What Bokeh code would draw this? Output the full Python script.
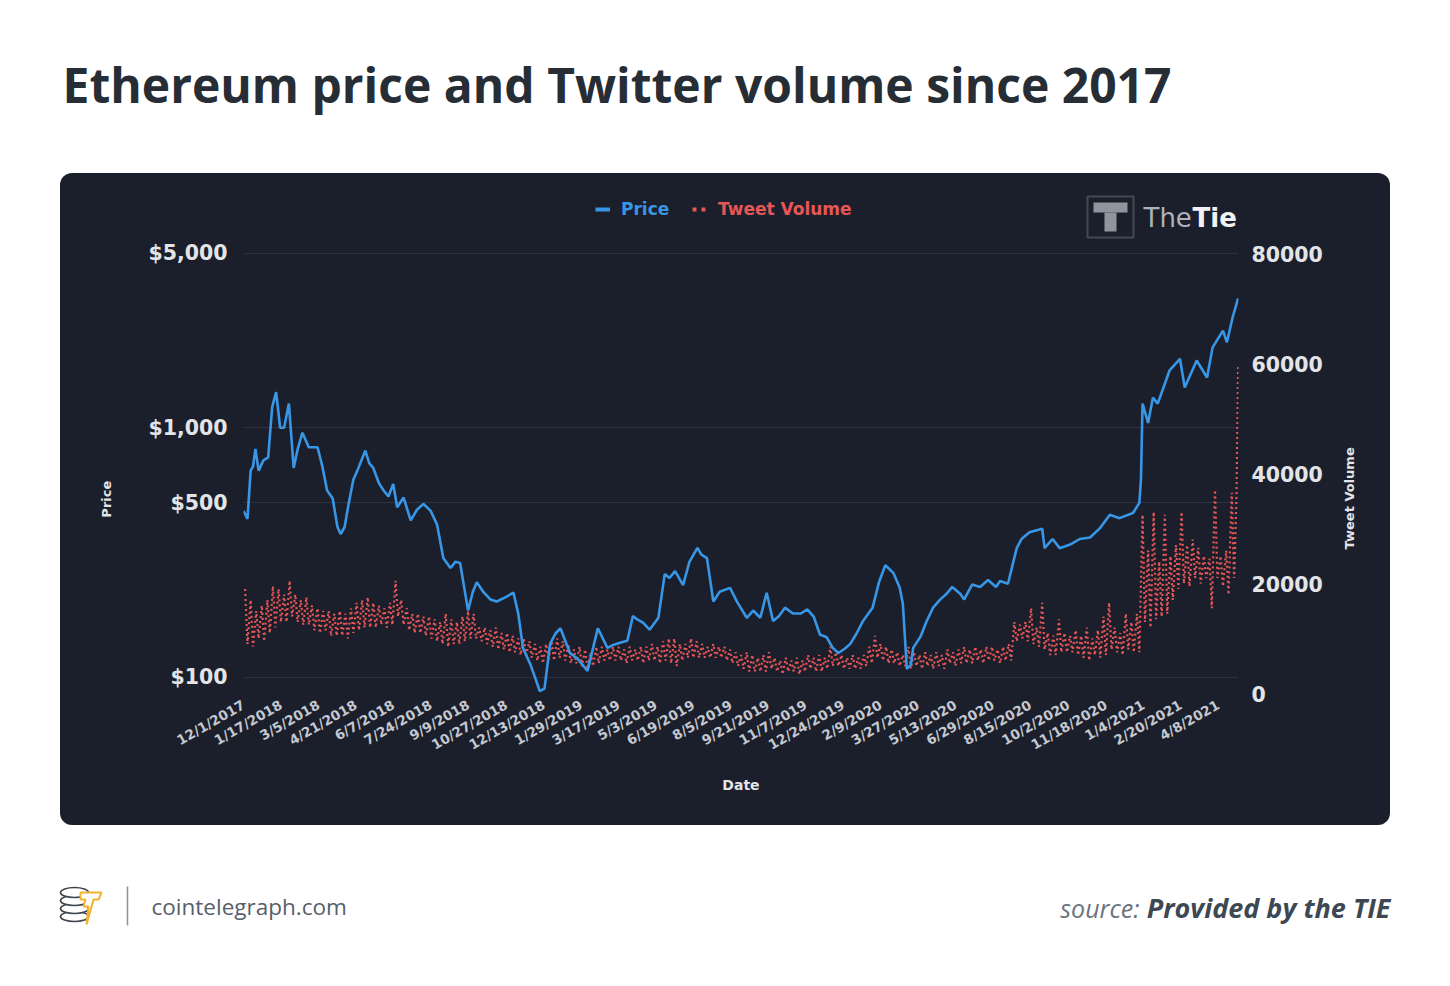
import numpy as np
import pandas as pd
from bokeh.plotting import figure
from bokeh.models import (Range1d, LinearAxis, LinearScale, FixedTicker, NumeralTickFormatter,
                          CustomJSTickFormatter, Label, BoxAnnotation, Legend, LegendItem)
from bokeh.core.properties import value
from bokeh.embed import file_html
from bokeh.resources import INLINE

# ---------------- data ----------------
TITLE = "Ethereum price and Twitter volume since 2017"
SITE = "cointelegraph.com"
SOURCE_LABEL = "source:"
SOURCE_TEXT = "Provided by the TIE"
START = "2017-12-01"

x_tick_labels = ["12/1/2017", "1/17/2018", "3/5/2018", "4/21/2018", "6/7/2018", "7/24/2018",
                 "9/9/2018", "10/27/2018", "12/13/2018", "1/29/2019", "3/17/2019", "5/3/2019",
                 "6/19/2019", "8/5/2019", "9/21/2019", "11/7/2019", "12/24/2019", "2/9/2020",
                 "3/27/2020", "5/13/2020", "6/29/2020", "8/15/2020", "10/2/2020", "11/18/2020",
                 "1/4/2021", "2/20/2021", "4/8/2021"]
price_ticks = [100, 500, 1000, 5000]
tweet_ticks = [0, 20000, 40000, 60000, 80000]

# ETH price (USD), days since 12/1/2017
price_day = [0, 5, 9, 12, 15, 19, 25, 31, 36, 41, 46, 51, 57, 63, 68, 74, 82, 93, 99, 105,
             112, 118, 122, 127, 132, 138, 143, 153, 158, 163, 170, 176, 182, 188, 193, 201,
             210, 218, 226, 235, 243, 251, 260, 266, 272, 282, 288, 293, 301, 310, 318, 330,
             339, 345, 351, 360, 366, 372, 378, 385, 392, 398, 410, 420, 432, 445, 457, 465,
             475, 482, 489, 495, 502, 510, 521, 529, 535, 542, 552, 560, 570, 575, 582, 590,
             598, 611, 620, 632, 640, 649, 657, 665, 672, 680, 690, 700, 708, 716, 724, 732,
             740, 747, 755, 762, 770, 778, 790, 798, 806, 816, 824, 828, 833, 838, 841, 850,
             858, 866, 875, 883, 890, 900, 905, 915, 925, 935, 945, 950, 960, 971, 977, 987,
             1003, 1006, 1016, 1025, 1038, 1050, 1063, 1075, 1088, 1100, 1117, 1125, 1127,
             1129, 1136, 1142, 1148, 1154, 1163, 1176, 1182, 1197, 1210, 1217, 1230, 1235,
             1242, 1249]
price_usd = [464, 431, 673, 700, 823, 673, 740, 760, 1210, 1390, 1000, 1000, 1250, 690, 820,
             955, 835, 835, 700, 560, 520, 400, 375, 400, 495, 620, 673, 810, 720, 690, 600,
             560, 530, 595, 480, 525, 425, 470, 495, 464, 410, 300, 274, 290, 287, 185, 220,
             240, 220, 205, 201, 210, 218, 180, 131, 113, 100, 88, 90, 136, 150, 157, 125, 118,
             106, 157, 131, 135, 138, 140, 176, 170, 165, 155, 173, 259, 250, 266, 234, 290,
             330, 310, 300, 201, 220, 228, 200, 173, 185, 173, 218, 168, 175, 190, 180, 180,
             187, 175, 148, 145, 131, 125, 130, 136, 150, 168, 190, 240, 281, 262, 229, 197,
             108, 112, 131, 145, 168, 190, 205, 216, 230, 216, 205, 235, 230, 245, 230, 243,
             237, 329, 358, 381, 394, 329, 358, 329, 340, 358, 363, 394, 448, 434, 455, 500,
             620, 1250, 1045, 1320, 1250, 1410, 1700, 1890, 1450, 1860, 1590, 2100, 2450,
             2200, 2760, 3300]

# Tweet volume (thousands): weekly high and weekly low, one pair per week from 12/1/2017
tweet_high_k = [19, 17, 15, 16, 17, 19.5, 19, 18, 20.5, 18,
                17, 17.5, 16, 15.5, 15, 15, 14.5, 15, 14.5, 15.5,
                16.5, 17, 17.5, 16.5, 16, 15.5, 16.5, 20.5, 17, 15.5,
                14.5, 14.5, 14, 14, 13.5, 13, 14.5, 13.5, 13, 14,
                15, 14.5, 12, 12, 11.5, 12, 11, 11, 10.5, 10,
                10, 9.5, 9, 8.5, 9, 9.5, 10, 9.5, 9, 8,
                8.5, 8, 7.5, 8.5, 8.5, 8, 8.5, 8.5, 8, 8.5,
                8, 8.5, 8.5, 9, 8.5, 9.5, 10, 10, 9, 9,
                10, 9.5, 9, 8.5, 9, 8.5, 8.5, 8, 7.5, 7,
                7.5, 7, 6.5, 7, 7.5, 6.5, 6, 6.5, 6, 6.5,
                6, 7, 6.5, 7, 6.5, 8.5, 7.5, 7, 6.5, 7,
                6.5, 7, 8.5, 10.5, 9, 8.5, 8, 7.5, 7, 8.5,
                7.5, 7, 7.5, 7, 7.5, 7, 8, 7.5, 8, 8.5,
                8, 8.5, 8, 8.5, 8.5, 8, 8.5, 9, 13, 12.5,
                13, 15.5, 12, 16.5, 11, 10.5, 13.5, 11, 10.5, 11.5,
                10.5, 12, 10, 11.5, 14, 16.5, 12, 11, 14.5, 13,
                14.5, 32.5, 26, 33, 24, 32.5, 25, 27, 33, 27,
                28, 26.5, 25, 24.5, 37, 25, 26, 36.5]
tweet_low_k = [9, 8.5, 10, 9.5, 11, 12, 13, 13, 14, 13,
               12.5, 12.5, 11.5, 11, 11.5, 10.5, 10.5, 10.5, 10, 11,
               11.5, 12, 12, 12, 12.5, 12, 12.5, 14, 12.5, 11.5,
               11, 11, 10.5, 10, 9.5, 9, 8.5, 9, 9, 9.5,
               10, 10, 9.5, 9, 8.5, 8, 8, 7.5, 7.5, 7,
               7, 6.5, 6, 5.5, 6, 6, 6.5, 6, 5.5, 5.5,
               5, 4.5, 5, 5.5, 6, 6, 6, 6, 5.5, 6,
               6, 5.5, 6, 6, 5.5, 6, 5.5, 5, 6, 6.5,
               6.5, 6.5, 6.5, 6.5, 6.5, 6.5, 6, 5.5, 5, 4.5,
               4, 4, 4, 4, 4.5, 4, 3.5, 4, 4, 3.5,
               4, 4.5, 4, 4, 4.5, 5, 5, 4.5, 4.5, 4.5,
               4.5, 5, 5.5, 6.5, 6, 5.5, 5.5, 5, 5, 4.5,
               5, 4.5, 5, 4.5, 5, 4.5, 5.5, 5, 5.5, 5.5,
               5.5, 6, 5.5, 6, 6, 5.5, 6, 6, 9.5, 10,
               9.5, 9, 8.5, 8, 7, 7, 7.5, 7.5, 7.5, 7,
               6.5, 6, 7, 6.5, 7, 8, 7.5, 7, 8, 7.5,
               7.5, 13, 12, 13.5, 14, 14.5, 17, 19, 20, 19.5,
               21, 20, 21, 15.5, 21, 19.5, 18, 21]
tweet_tail_day = [1247, 1249]
tweet_tail_k = [36, 59.6]

# ---------------- styles ----------------
BG = "#1b1f2b"
GRID = "#2c3243"
BLUE = "#3896e6"
RED = "#e65656"
AXIS_TXT = "#e2e4e8"
FONT = "DejaVu Sans"

# ---------------- derived series ----------------
start = pd.Timestamp(START)
price_x = start + pd.to_timedelta(price_day, unit="D")

tw_day, tw_val = [], []
for w, (hi, lo) in enumerate(zip(tweet_high_k, tweet_low_k)):
    tw_day += [7 * w + 2, 7 * w + 5]
    tw_val += [hi * 1000, lo * 1000]
tw_day += tweet_tail_day
tw_val += [v * 1000 for v in tweet_tail_k]
tweet_x = start + pd.to_timedelta(tw_day, unit="D")

tick_ms = [float(t) for t in (pd.to_datetime(x_tick_labels, format="%m/%d/%Y").asi8 // 10**6)]
x_end = start + pd.Timedelta(days=1249.5)


def plain_fig(w, h, xr, yr):
    fg = figure(width=w, height=h, x_range=Range1d(*xr), y_range=Range1d(*yr),
                x_axis_location=None, y_axis_location=None, output_backend="svg",
                toolbar_location=None, min_border=0, outline_line_color=None,
                background_fill_color="white", border_fill_color="white")
    fg.grid.visible = False
    fg.outline_line_alpha = 0
    return fg


# ---------------- title figure (page pixels 0..173) ----------------
t = plain_fig(1434, 173, (0, 1434), (173, 0))
t.text(x=[62], y=[84], text=[TITLE], text_font=value("Open Sans"), text_font_style="bold",
       text_font_size="48px", text_color="#262d35", text_baseline="middle", text_align="left")

# ---------------- chart figure (page x 60..1390, y 173..825) ----------------
FL, FB = 243, 693  # frame left / bottom in page pixels


def sx(px):
    return px - FL


def sy(py):
    return FB - py


# the panel colour comes from the element background, so no border fill is painted
# (avoids the light seam the SVG backend leaves around the plot frame)
p = figure(width=1330, height=652, x_axis_type="datetime", y_axis_type="log",
           x_range=Range1d(start, x_end), y_range=Range1d(86, 9800),
           output_backend="svg", toolbar_location=None,
           min_border_left=183, min_border_right=152, min_border_top=7, min_border_bottom=132,
           background_fill_color=BG, border_fill_color=None, outline_line_color=None)
p.outline_line_alpha = 0
p.margin = (0, 0, 0, 60)
p.styles = {"border-radius": "12px", "overflow": "hidden", "background-color": BG}
p.extra_y_ranges = {"tw": Range1d(0, 93300)}
p.extra_y_scales = {"tw": LinearScale()}

tw_r = p.line(tweet_x, tw_val, y_range_name="tw", line_color=RED, line_width=2.2, line_dash="2 3")
pr_r = p.line(price_x, price_usd, line_color=BLUE, line_width=2.6)

# axes
xa = p.xaxis[0]
xa.ticker = FixedTicker(ticks=tick_ms)
xa.formatter = CustomJSTickFormatter(code="""
const d = new Date(tick);
return (d.getUTCMonth() + 1) + '/' + d.getUTCDate() + '/' + d.getUTCFullYear();
""")
xa.major_label_orientation = 0.52
xa.major_label_text_font = FONT
xa.major_label_text_font_style = "bold"
xa.major_label_text_font_size = "13.5px"
xa.major_label_text_color = "#c4c8d0"
xa.major_label_standoff = 10
xa.axis_label = "Date"
xa.axis_label_text_font = FONT
xa.axis_label_text_font_style = "bold"
xa.axis_label_text_font_size = "14px"
xa.axis_label_text_color = AXIS_TXT
xa.axis_label_standoff = 14

ya = p.yaxis[0]
ya.ticker = FixedTicker(ticks=price_ticks)
ya.formatter = NumeralTickFormatter(format="$0,0")
ya.major_label_standoff = 16

ry = LinearAxis(y_range_name="tw", ticker=FixedTicker(ticks=tweet_ticks))
ry.major_label_standoff = 13
p.add_layout(ry, "right")

# axis titles, drawn as single-tick outer axes so they sit where the reference has them
price_title_ax = LinearAxis(y_range_name="tw", ticker=FixedTicker(ticks=[38700]),
                            formatter=CustomJSTickFormatter(code="return 'Price';"),
                            major_label_orientation=np.pi / 2, major_label_standoff=39)
p.add_layout(price_title_ax, "left")
tweet_title_ax = LinearAxis(y_range_name="tw", ticker=FixedTicker(ticks=[26200]),
                            formatter=CustomJSTickFormatter(code="return 'Tweet Volume';"),
                            major_label_orientation=np.pi / 2, major_label_standoff=24)
p.add_layout(tweet_title_ax, "right")

for ax in (xa, ya, ry, price_title_ax, tweet_title_ax):
    ax.axis_line_color = None
    ax.axis_line_alpha = 0
    ax.major_tick_line_color = None
    ax.minor_tick_line_color = None
    ax.major_tick_out = 0
    ax.major_tick_in = 0
    ax.minor_tick_out = 0
    ax.minor_tick_in = 0
for ax in (ya, ry):
    ax.major_label_text_font = FONT
    ax.major_label_text_font_style = "bold"
    ax.major_label_text_font_size = "20.5px"
    ax.major_label_text_color = AXIS_TXT
for ax in (price_title_ax, tweet_title_ax):
    ax.major_label_text_font = FONT
    ax.major_label_text_font_style = "bold"
    ax.major_label_text_font_size = "13px"
    ax.major_label_text_color = AXIS_TXT

p.xgrid.visible = False
p.ygrid[0].ticker = FixedTicker(ticks=price_ticks)
p.ygrid.grid_line_color = GRID
p.ygrid.grid_line_width = 1.2

# legend (two single-item legends so each label takes its series colour)
leg_price = p.line(x=[start], y=[100], line_color=BLUE, line_width=4)
leg_tweet = p.line(x=[start], y=[0], line_color=RED, line_width=4, line_dash="4 5",
                   y_range_name="tw")
for rend, lab, col, lx in ((leg_price, "Price", BLUE, 595), (leg_tweet, "Tweet Volume", RED, 692)):
    lg = Legend(items=[LegendItem(label=lab, renderers=[rend])], location=(sx(lx), sy(219)),
                orientation="horizontal", label_text_font=FONT, label_text_font_style="bold",
                label_text_font_size="17px", label_text_color=col, glyph_width=15,
                glyph_height=20, label_standoff=11, padding=0, margin=0, spacing=0,
                border_line_alpha=0, background_fill_alpha=0)
    p.add_layout(lg)


# TheTie logo
def sbox(l, r, tp, b, **kw):
    return BoxAnnotation(left=sx(l), right=sx(r), top=sy(tp), bottom=sy(b),
                         left_units="screen", right_units="screen", top_units="screen",
                         bottom_units="screen", **kw)


p.add_layout(sbox(1087, 1133, 196, 237, fill_alpha=0, line_color="#a4a9b1", line_width=2))
p.add_layout(sbox(1093, 1127, 202, 212, fill_color="#8f959d", fill_alpha=1, line_alpha=0))
p.add_layout(sbox(1104, 1116, 212, 231, fill_color="#8f959d", fill_alpha=1, line_alpha=0))
p.add_layout(Label(x=sx(1143), y=sy(217), x_units="screen", y_units="screen", text="The",
                   text_baseline="middle", text_font=FONT, text_font_size="26px",
                   text_color="#aeb2b9"))
p.add_layout(Label(x=sx(1192), y=sy(217), x_units="screen", y_units="screen", text="Tie",
                   text_baseline="middle", text_font=FONT, text_font_style="bold",
                   text_font_size="26px", text_color="#f2f2f2"))

# ---------------- footer figure (page y 825..978) ----------------
f = plain_fig(1434, 153, (0, 1434), (978, 825))
f.ellipse(x=[74, 74, 74, 74], y=[916, 908, 900, 892], width=28, height=10,
          fill_color="white", line_color="#3f454e", line_width=1.6)
f.patch(x=[80, 101, 98, 93, 86, 88, 83, 85, 80], y=[892, 892, 899, 899, 924, 906, 906, 899, 899],
        fill_color="white", line_color="#f2b230", line_width=2)
f.segment(x0=[127], y0=[886], x1=[127], y1=[925], line_color="#8b9199", line_width=1.5)
f.text(x=[151], y=[906], text=[SITE], text_font=value("Open Sans"), text_font_size="22.5px",
       text_color="#56606b", text_baseline="middle")
f.text(x=[1139], y=[907], text=[SOURCE_LABEL], text_font=value("Open Sans"),
       text_font_style="italic", text_font_size="25px", text_color="#6b7480",
       text_baseline="middle", text_align="right")
f.text(x=[1390], y=[907], text=[SOURCE_TEXT], text_font=value("Open Sans"),
       text_font_style="bold italic", text_font_size="27px", text_color="#3d4852",
       text_baseline="middle", text_align="right")

open("out.html", "w").write(file_html([t, p, f], INLINE, "Ethereum price and Twitter volume"))
